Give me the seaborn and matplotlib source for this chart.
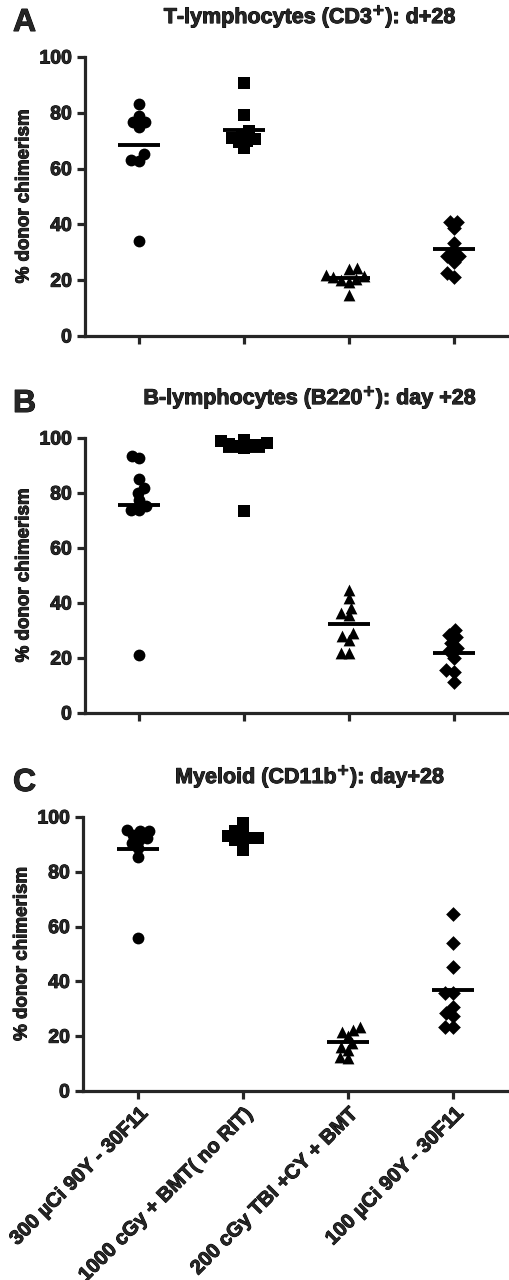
import numpy as np
import pandas as pd
import matplotlib
matplotlib.use("Agg")
import matplotlib.pyplot as plt
import matplotlib.patheffects as pe
import seaborn as sns

groups = ["300 \u00b5Ci 90Y - 30F11", "1000 cGy + BMT( no RIT)",
          "200 cGy TBI +CY + BMT", "100 \u00b5Ci 90Y - 30F11"]
markers = ["o", "s", "^", "D"]

# panel A - T cells (CD3+)
a_g1 = [83.3, 78.7, 76.7, 76.7, 74.9, 63.2, 62.9, 65.2, 34.2]
a_g2 = [90.7, 79.1, 73.5, 70.0, 67.5, 69.5, 71.0, 72.0, 70.5]
a_g3 = [24.5, 24.0, 14.7, 19.5, 20.0, 21.0, 22.0, 21.5, 20.5]
a_g4 = [41.0, 41.0, 38.6, 33.5, 30.5, 26.7, 28.5, 28.7, 21.3, 22.7]

# panel B - B cells (B220+)
b_g1 = [93.6, 92.6, 85.1, 80.0, 81.8, 77.3, 73.9, 73.9, 75.4, 21.2]
b_g2 = [98.8, 98.2, 99.2, 97.6, 97.6, 96.4, 98.0, 97.0, 73.3]
b_g3 = [44.8, 41.8, 38.2, 36.4, 35.5, 26.7, 27.9, 29.1, 21.8, 21.8]
b_g4 = [30.3, 28.5, 27.5, 25.5, 23.6, 20.0, 15.8, 14.8, 11.2, 22.4]

# panel C - myeloid (CD11b+)
c_g1 = [94.8, 95.4, 92.3, 93.5, 90.5, 88.7, 85.4, 56.0, 91.7, 95.0]
c_g2 = [97.8, 94.8, 94.2, 92.3, 91.1, 91.7, 88.1, 92.9, 92.5]
c_g3 = [23.5, 22.3, 21.7, 17.4, 16.2, 15.0, 11.9, 12.5, 20.0]
c_g4 = [64.7, 54.0, 45.4, 35.7, 35.7, 30.8, 28.4, 27.2, 23.5, 23.5]

panels = [
    ("A", "T-lymphocytes (CD3$^{\\mathbf{+}}$): d+28", [a_g1, a_g2, a_g3, a_g4]),
    ("B", "B-lymphocytes (B220$^{\\mathbf{+}}$): day +28", [b_g1, b_g2, b_g3, b_g4]),
    ("C", "Myeloid (CD11b$^{\\mathbf{+}}$): day+28", [c_g1, c_g2, c_g3, c_g4]),
]

sns.set_style("ticks")
plt.rcParams['font.family'] = ['Liberation Sans', 'DejaVu Sans']
plt.rcParams['font.weight'] = 'bold'
plt.rcParams['mathtext.default'] = 'bf'

thick = [pe.withStroke(linewidth=0.7, foreground="black")]

fig = plt.figure(figsize=(5.09, 12.8), dpi=100)
W, H = 509, 1280
# (spine x, top y px, bottom y px)
boxes = [(85, 57, 336), (85, 438, 713), (83, 817, 1091)]
swarms = []

for k, (letter, title, vals) in enumerate(panels):
    x0, ytop, ybot = boxes[k]
    ax = fig.add_axes([x0 / W, 1 - ybot / H, (W - x0) / W, (ybot - ytop) / H])
    df = pd.DataFrame({
        "group": np.repeat(groups, [len(v) for v in vals]),
        "value": np.concatenate(vals),
    })
    for i, g in enumerate(groups):
        sub = df[df["group"] == g]
        n_before = len(ax.collections)
        # small size for a tight swarm, markers enlarged later (GraphPad-like overlap)
        sns.swarmplot(data=sub, x="group", y="value", order=groups, ax=ax,
                      marker=markers[i], color="black", size=5.5,
                      linewidth=0, clip_on=False)
        for coll in ax.collections[n_before:]:
            swarms.append((coll, 7.5 if markers[i] == "D" else 8.5))
    sns.pointplot(data=df, x="group", y="value", order=groups, ax=ax,
                  estimator="mean", errorbar=None, color="black",
                  marker="_", markersize=30, markeredgewidth=2.8,
                  linestyle="none")
    ax.set_xlim(-0.52, 3.53)
    ax.set_ylim(0, 100)
    ax.set_yticks([0, 20, 40, 60, 80, 100])
    ax.set_xticks(range(len(groups)))
    ax.set_ylabel("% donor chimerism", fontsize=13.5, fontweight="bold", labelpad=5,
                  path_effects=thick)
    ax.set_xlabel("")
    for s in ["left", "bottom"]:
        ax.spines[s].set_linewidth(2.3)
    sns.despine(ax=ax)
    ax.tick_params(axis="both", width=2.3, length=6, labelsize=14)
    if k < 2:
        ax.set_xticklabels([])
    else:
        ax.set_xticklabels(groups, rotation=45, ha="right", rotation_mode="anchor",
                           fontsize=14.5, fontweight="bold", path_effects=thick)
    for lab in ax.get_yticklabels():
        lab.set_fontweight("bold")
        lab.set_path_effects(thick)
    fig.text(13 / W, 1 - (ytop - 34) / H, letter, fontsize=23, fontweight="bold",
             ha="left", va="center", path_effects=thick)
    fig.text(310 / W, 1 - (ytop - 40) / H, title, fontsize=15.5, fontweight="bold",
             ha="center", va="center", path_effects=thick)

# fix swarm positions, then draw the markers at full size
fig.canvas.draw()
for coll, big in swarms:
    if "draw" in coll.__dict__:
        del coll.draw
    coll.set_sizes([big ** 2])

fig.savefig("out.png", dpi=100, facecolor="white")
